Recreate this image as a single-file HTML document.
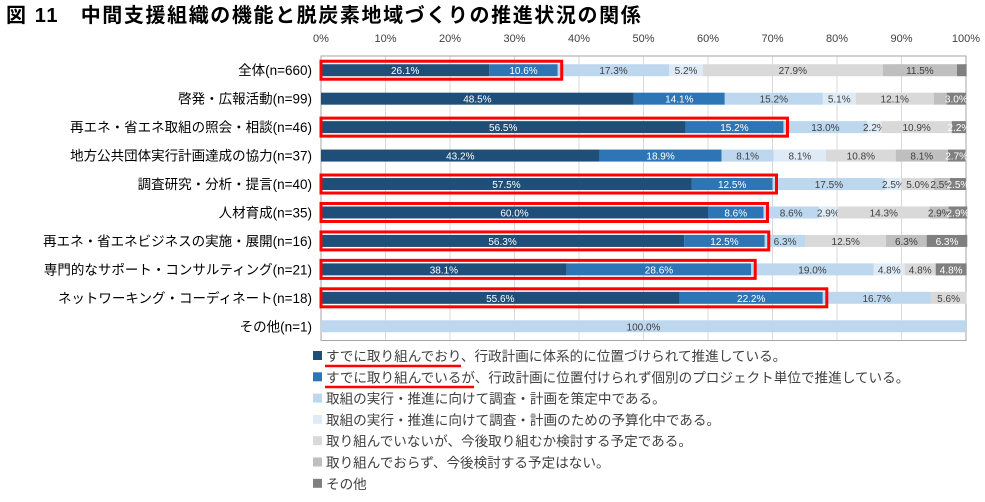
<!DOCTYPE html>
<html><head><meta charset="utf-8">
<style>
body{margin:0;background:#fff;width:985px;height:497px;overflow:hidden;font-family:"Liberation Sans","Noto Sans CJK JP",sans-serif;}
svg text{font-family:"Liberation Sans","Noto Sans CJK JP",sans-serif;}
</style></head><body>
<svg id="c" width="985" height="497" xmlns="http://www.w3.org/2000/svg">
<text x="6" y="22" font-size="20" font-weight="bold" letter-spacing="1.6" fill="#000">図 11　中間支援組織の機能と脱炭素地域づくりの推進状況の関係</text>
</svg>
<script>
const categories=["全体(n=660)","啓発・広報活動(n=99)","再エネ・省エネ取組の照会・相談(n=46)","地方公共団体実行計画達成の協力(n=37)","調査研究・分析・提言(n=40)","人材育成(n=35)","再エネ・省エネビジネスの実施・展開(n=16)","専門的なサポート・コンサルティング(n=21)","ネットワーキング・コーディネート(n=18)","その他(n=1)"];
const s1=[26.1,48.5,56.5,43.2,57.5,60.0,56.3,38.1,55.6,0];
const s2=[10.6,14.1,15.2,18.9,12.5,8.6,12.5,28.6,22.2,0];
const s3=[17.3,15.2,13.0,8.1,17.5,8.6,6.3,19.0,16.7,100.0];
const s4=[5.2,5.1,2.2,8.1,2.5,2.9,0,4.8,0,0];
const s5=[27.9,12.1,10.9,10.8,5.0,14.3,12.5,4.8,5.6,0];
const s6=[11.5,2.0,0,8.1,2.5,2.9,6.3,0,0,0];
const s7=[1.5,3.0,2.2,2.7,2.5,2.9,6.3,4.8,0,0];
const highlighted=[1,0,1,0,1,1,1,1,1,0];
const seriesNames=["すでに取り組んでおり、行政計画に体系的に位置づけられて推進している。","すでに取り組んでいるが、行政計画に位置付けられず個別のプロジェクト単位で推進している。","取組の実行・推進に向けて調査・計画を策定中である。","取組の実行・推進に向けて調査・計画のための予算化中である。","取り組んでいないが、今後取り組むか検討する予定である。","取り組んでおらず、今後検討する予定はない。","その他"];
const ticks=[0,10,20,30,40,50,60,70,80,90,100];
const series=[s1,s2,s3,s4,s5,s6,s7];
const colors=["#1f4e79","#2e75b6","#bdd7ee","#deebf7","#d9d9d9","#bfbfbf","#808080"];
const tcol=["#fff","#fff","#404040","#404040","#404040","#404040","#fff"];
const svg=document.getElementById('c');
const NS="http://www.w3.org/2000/svg";
const x0=321,x1=966,plotTop=56,rowH=28.45,barH=12;
const X=v=>x0+(x1-x0)*v/100;
const Y=i=>plotTop+rowH*(i+0.5);
function mk(t,a,txt){const e=document.createElementNS(NS,t);for(const k in a)e.setAttribute(k,a[k]);if(txt!==undefined)e.textContent=txt;svg.appendChild(e);return e;}
ticks.forEach(t=>{
 const g=mk('line',{x1:X(t),x2:X(t),y1:plotTop,y2:plotTop+rowH*10,stroke:'#d9d9d9','stroke-width':1});
 
 
 const l=mk('text',{x:X(t),y:42,'font-size':11,'text-anchor':'middle',fill:'#404040'},t+'%');
 
 
});
const fr=mk('rect',{x:x0,y:plotTop,width:x1-x0,height:rowH*10,fill:'none',stroke:'#a6a6a6'});


categories.forEach((c,i)=>{
 const yc=Y(i);
 const l=mk('text',{x:312,y:yc+5,'font-size':13.5,'text-anchor':'end',fill:'#000'},c);
 
 
 let acc=0;
 series.forEach((s,k)=>{
  const v=s[i];
  if(v>0){
   const r=mk('rect',{x:X(acc),y:yc-barH/2,width:X(acc+v)-X(acc),height:barH,fill:colors[k]});
   
   
   if(v>=2.2){
    const t=mk('text',{x:(X(acc)+X(acc+v))/2,y:yc+4,'font-size':10,'text-anchor':'middle',fill:tcol[k]},v.toFixed(1)+'%');
    
    
   }
  }
  acc+=v;
 });
 if(highlighted[i]){
  const h=mk('rect',{x:x0,y:yc-barH/2-3,width:X(s1[i]+s2[i])-x0+4,height:barH+6,fill:'none',stroke:'#ff0000','stroke-width':3});
  
  
 }
});
seriesNames.forEach((n,k)=>{
 const y=356+k*21.3;
 const r=mk('rect',{x:313,y:y-5,width:9,height:9,fill:colors[k]});
 
 
 const t=mk('text',{x:326,y:y+5,'font-size':13.6,fill:'#404040'},n);
 
 
});
[[325,461,366],[325,474,387]].forEach(u=>{
 const l=mk('line',{x1:u[0],x2:u[1],y1:u[2],y2:u[2],stroke:'#ff0000','stroke-width':2.5});
 
 
});
</script>
</body></html>
